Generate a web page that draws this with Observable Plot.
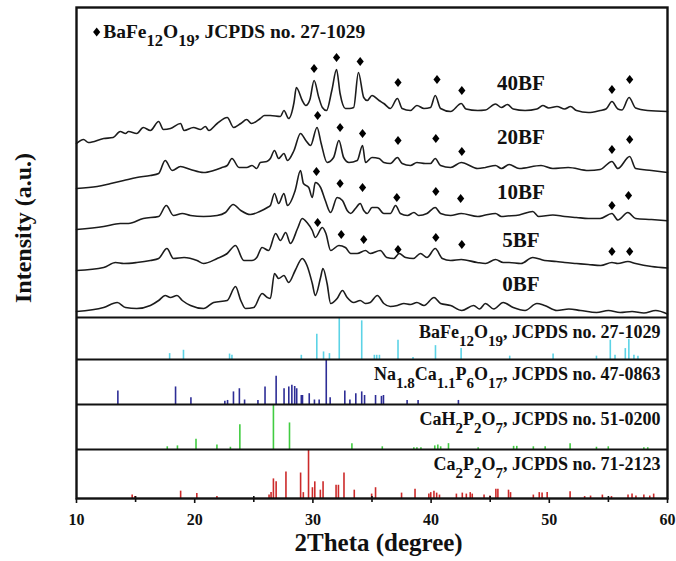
<!DOCTYPE html>
<html>
<head>
<meta charset="utf-8">
<script src="https://cdn.jsdelivr.net/npm/d3@7"></script>
<script src="https://cdn.jsdelivr.net/npm/@observablehq/plot@0.6"></script>
<style>
  html, body { margin: 0; padding: 0; background: #fff; }
  #chart svg { display: block; }
</style>
</head>
<body>
<div id="chart"></div>
<script>
// ---------------- DATA ----------------
const sampleNames = ["0BF", "5BF", "10BF", "20BF", "40BF"];

// XRD traces: [2theta (deg), intensity (a.u.) above the trace's own baseline]
const bf0 = [[10,3],[12.3,7],[13.45,12],[14.15,7],[15.1,6],[16.25,9],[16.95,14],[17.5,19],[17.95,17],[18.5,19],[18.95,14],[19.65,9],[20.75,6],[21.6,12],[22.75,14],[23.45,28],[23.9,14],[24.3,6],[25.0,7],[25.7,21],[26.15,17],[26.4,16],[26.75,41],[27.1,36],[27.55,39],[27.95,32],[28.5,44],[29.1,56],[29.5,49],[29.95,31],[30.2,19],[30.65,37],[30.85,46],[31.2,31],[31.5,11],[32.05,16],[32.5,24],[32.9,17],[33.45,12],[34.0,14],[34.45,11],[34.85,12],[35.45,19],[36.0,11],[36.55,8],[37.15,9],[37.7,11],[38.25,10],[38.8,12],[39.4,9],[40.25,17],[40.8,11],[41.65,9],[42.6,4],[43.6,9],[44.1,5.5],[44.6,11],[45.3,5.5],[46.1,12],[46.95,7],[47.95,4],[48.95,11],[49.6,9],[50.65,4],[51.65,5.5],[52.65,4],[54.0,2],[55.0,4],[56.0,2],[57.0,3],[58.0,1.5],[59.0,4],[60,0.5]];
const bf5 = [[10,4],[12.3,7],[13.3,12],[14.0,11],[15.1,12],[16.25,14],[16.95,16],[17.65,26],[18.2,16],[19.1,17],[20.2,14],[20.75,11],[21.9,16],[22.75,21],[23.45,29],[24.15,14],[24.85,14],[25.25,17],[25.7,27],[26.25,24],[26.85,41],[27.25,34],[27.7,42],[28.1,31],[28.7,46],[29.1,56],[29.5,52],[29.95,44],[30.2,37],[30.8,47],[31.1,41],[31.5,24],[32.2,29],[32.75,27],[33.2,21],[33.75,21],[34.45,24],[34.85,21],[35.7,24],[36.25,17],[36.85,16],[37.3,21],[37.85,17],[38.5,16],[39.1,21],[39.65,17],[40.35,26],[40.95,16],[41.65,14],[42.55,15],[43.9,12],[44.6,11],[45.45,15],[46.1,12],[46.6,12],[47.6,11],[48.6,17],[49.6,14],[50.6,13],[51.3,12],[52.3,11],[53.3,10],[54.35,9],[55.3,12],[55.8,11],[56.65,13],[57.3,11],[58.65,8],[60,6.5]];
const bf10 = [[10,4],[12.3,7],[13.7,10],[14.4,10],[15.65,15],[16.95,17],[17.6,28],[18.2,18],[18.95,20],[19.65,18],[20.75,17],[21.9,18],[22.6,21],[23.25,29],[23.9,23],[24.7,19],[25.5,22],[26.15,26],[26.4,28],[26.75,40],[27.1,30],[27.55,40],[27.85,28],[28.5,43],[28.95,63],[29.2,50],[29.65,46],[29.95,36],[30.2,51],[30.65,46],[31.05,33],[31.5,21],[32.05,36],[32.5,33],[32.9,23],[33.2,20],[33.6,25],[34.0,30],[34.3,23],[34.6,20],[35.0,26],[35.45,26],[36.0,20],[36.55,20],[37.0,28],[37.4,20],[38.0,18],[38.55,21],[38.95,18],[39.65,20],[40.35,26],[40.8,20],[41.65,18],[42.55,20],[43.95,17],[44.6,18.5],[45.45,20],[45.95,17],[46.45,17.5],[47.45,18.5],[48.6,22],[49.1,17],[50.3,18.5],[51.3,17],[52.3,16],[53.3,15],[54.3,15],[55.3,20],[55.8,13.5],[56.65,21],[57.3,15],[58.65,14],[60,12.7]];
const bf20 = [[10,4],[11.75,6],[12.9,9],[14.0,12],[15.1,15],[16.25,17],[16.95,19],[17.5,32],[18.1,22],[18.8,26],[19.65,23],[20.75,20],[21.6,22],[22.3,25],[22.75,27],[23.15,34],[23.75,25],[24.4,25],[24.85,27],[25.25,24],[25.55,30],[26.1,31],[26.4,34],[26.75,42],[27.1,34],[27.55,39],[27.85,32],[28.4,42],[28.95,59],[29.4,52],[29.8,47],[30.35,65],[30.7,49],[31.2,30],[31.75,35],[32.2,52],[32.6,35],[33.05,30],[33.75,32],[34.2,47],[34.45,30],[35.0,35],[35.6,34],[36.0,30],[36.55,29],[37.15,35],[37.55,29],[38.25,27],[38.8,30],[39.5,29],[39.95,29],[40.35,34],[40.8,27],[41.65,25],[42.55,30],[43.95,24],[44.6,25],[45.45,27],[45.95,24],[46.6,28],[47.45,24],[49.3,27],[50.3,24],[51.6,25],[53.3,22],[54.3,23],[55.3,31],[55.8,24],[56.8,36],[57.3,24],[58.65,22],[60,20]];
const bf40 = [[10,5],[10.6,9],[11.0,6],[12.3,10],[13.1,11],[13.7,17],[14.15,15],[14.4,17],[15.1,15],[15.65,21],[16.25,18],[16.95,27],[17.35,19],[17.95,20],[18.8,25],[19.1,18],[19.9,21],[20.5,19],[20.9,22],[21.2,18],[21.9,25],[22.75,31],[23.3,21],[23.9,25],[24.4,29],[24.8,25],[25.55,30],[25.9,33],[26.4,33],[27.25,32],[27.55,38],[27.95,30],[28.4,46],[28.6,61],[29.1,48],[29.4,43],[29.75,49],[30.1,68],[30.5,51],[30.8,41],[31.15,38],[31.6,58],[32.0,79],[32.3,55],[32.75,40],[33.1,40],[33.45,41],[33.85,76],[34.3,51],[34.6,48],[35.0,53],[35.6,48],[36.0,45],[36.55,40],[37.15,50],[37.55,40],[38.25,38],[38.8,43],[39.4,40],[39.95,41],[40.35,53],[40.8,40],[41.65,37],[42.55,45],[42.95,39.5],[43.95,38],[44.6,38.5],[45.45,44.5],[45.95,41],[46.45,44],[46.95,39.5],[47.95,38],[48.95,39.5],[49.45,43],[49.95,40.5],[50.65,42],[51.3,39.5],[51.8,42],[52.3,38],[53.3,36],[54.3,38],[54.8,39.5],[55.3,47],[55.8,39.5],[56.15,38.5],[56.75,51],[57.3,40.5],[58.3,38],[60,37]];

// BaFe12O19 peak markers (diamonds): [2theta, height a.u. above trace baseline]
const dia0 = [];
const dia5 = [[30.4,52],[32.4,40],[34.3,35],[37.2,25],[40.4,37],[42.6,30],[55.3,23],[56.8,23]];
const dia10 = [[30.3,62],[32.3,50],[34.2,46],[37.1,36],[40.4,42],[42.5,35],[55.3,28],[56.7,38]];
const dia20 = [[30.4,77],[32.3,65],[34.2,59],[37.2,52],[40.4,54],[42.6,41],[55.3,43],[56.8,53]];
const dia40 = [[30.1,80],[32.0,91],[34.0,87],[37.2,66],[40.5,69],[42.6,58],[55.3,59],[56.8,69]];

// Reference stick patterns: [2theta, relative intensity %]
const bafeSticks = [[17.88,14],[19.05,22],[22.95,13],[23.15,10],[29.02,10],[30.33,60],[30.9,18],[31.4,14],[32.23,100],[34.13,92],[35.2,10],[35.4,10],[35.63,10],[37.2,46],[38.47,5],[40.37,33],[42.54,26],[46.65,8],[50.32,13],[53.99,8],[55.16,46],[55.56,10],[56.43,26],[56.73,48],[57.16,10],[57.5,8]];
const nacaSticks = [[13.5,30],[18.38,39],[19.68,15],[22.55,7],[22.78,9],[23.28,28],[23.78,35],[24.22,10],[25.35,9],[25.95,39],[26.89,63],[27.56,35],[27.96,39],[28.22,43],[28.46,40],[28.63,35],[29.02,20],[29.12,20],[29.69,24],[30.13,10],[30.53,10],[31.13,98],[31.46,15],[32.7,30],[33.13,10],[33.63,24],[34.13,28],[34.37,20],[35.3,20],[35.8,18],[35.97,20],[37.97,9],[38.9,9],[42.31,9]];
const cahSticks = [[17.68,6],[18.54,8],[20.11,23],[21.88,10],[23.02,5],[23.82,55],[26.66,100],[28.02,59],[33.3,13],[35.87,6],[38.54,4],[38.8,4],[39.14,4],[40.31,8],[40.57,10],[40.81,6],[41.47,13],[43.98,4],[46.98,7],[47.25,7],[48.65,6],[49.65,6],[51.76,13],[53.99,5],[54.99,6],[58.0,4],[58.33,4]];
const cappSticks = [[14.71,7],[14.94,4],[18.81,15],[20.18,10],[21.88,4],[26.29,7],[26.46,12],[26.66,40],[26.89,34],[27.72,54],[28.96,52],[29.19,12],[29.63,99],[29.96,22],[30.16,34],[30.63,17],[30.86,34],[31.96,27],[32.16,27],[32.63,52],[33.5,17],[34.97,9],[35.3,22],[37.5,11],[38.64,19],[39.81,9],[39.97,12],[40.24,15],[40.47,11],[40.71,7],[42.14,9],[42.64,11],[42.98,9],[43.31,12],[43.48,9],[44.48,7],[44.98,5],[45.48,19],[45.65,19],[46.55,17],[46.72,12],[48.65,7],[49.15,12],[49.39,11],[49.82,12],[51.76,14],[52.99,4],[53.49,5],[54.49,7],[55.26,4],[56.66,7],[57.0,9],[57.33,5],[58.0,7],[58.5,5],[58.83,9]];

const refLabels = ["BaFe_{12}O_{19}, JCPDS no. 27-1029", "Na_{1.8}Ca_{1.1}P_{6}O_{17}, JCPDS no. 47-0863", "CaH_{2}P_{2}O_{7}, JCPDS no. 51-0200", "Ca_{2}P_{2}O_{7}, JCPDS no. 71-2123"];
const legendLabel = "BaFe_{12}O_{19}, JCPDS no. 27-1029";
const majorTicks = [10, 20, 30, 40, 50, 60];
const minorTicks = [15, 25, 35, 45, 55];
const xTitle = "2Theta (degree)";
const yTitle = "Intensity (a.u.)";

// ---------------- LAYOUT ----------------
const FONT = '"Times New Roman", "Liberation Serif", "DejaVu Serif", serif';
const traceData = [bf0, bf5, bf10, bf20, bf40];
const diaData = [dia0, dia5, dia10, dia20, dia40];
const traceBase = [184, 224, 265, 306, 350];          // vertical offsets of stacked traces
const labelLift = [23, 27, 34, 48, 58];               // sample label baseline above trace base
// panels bottom->top: Ca2P2O7, CaH2P2O7, NaCaP, BaFe ; main panel above 181
const refPanels = [
  {sticks: bafeSticks, color: "#5cd3e6", base: 139, h: 42, label: refLabels[0]},
  {sticks: nacaSticks, color: "#2d2d96", base: 94,  h: 45, label: refLabels[1]},
  {sticks: cahSticks,  color: "#41cc41", base: 49,  h: 45, label: refLabels[2]},
  {sticks: cappSticks, color: "#cc2a2a", base: 0,   h: 49, label: refLabels[3]}
];
const dividers = [49, 94, 139, 181];

const lineRows = [], diaRows = [];
sampleNames.forEach((name, i) => {
  traceData[i].forEach(([t, v]) => lineRows.push({sample: name, t, y: traceBase[i] + v}));
  diaData[i].forEach(([t, v]) => diaRows.push({t, y: traceBase[i] + v}));
});

const diamond = {
  draw(ctx, size) {
    const r = Math.sqrt(size / Math.PI), w = r * 0.78;
    ctx.moveTo(0, -r); ctx.lineTo(w, 0); ctx.lineTo(0, r); ctx.lineTo(-w, 0); ctx.closePath();
  }
};

const stickMarks = refPanels.map(p => Plot.ruleX(p.sticks, {
  x: d => d[0], y1: () => p.base, y2: d => p.base + d[1] / 100 * p.h,
  stroke: p.color, strokeWidth: 1.6
}));

const plot = Plot.plot({
  width: 676, height: 561,
  marginTop: 7, marginRight: 9, marginBottom: 63, marginLeft: 76,
  style: {fontFamily: FONT, fontSize: "16px", fontWeight: "bold", color: "#111", background: "white", overflow: "visible"},
  x: {domain: [10, 60], ticks: majorTicks, tickSize: 5, tickPadding: 10, tickFormat: d => String(d), label: null},
  y: {domain: [0, 491], axis: null},
  marks: [
    ...stickMarks,
    Plot.line(lineRows, {x: "t", y: "y", z: "sample", stroke: "#1c1c1c", strokeWidth: 1.6, curve: "monotone-x"}),
    Plot.dot(diaRows, {x: "t", y: "y", symbol: diamond, r: 4.6, fill: "#000", stroke: "none"}),
    Plot.ruleY(dividers, {stroke: "#111", strokeWidth: 2}),
    Plot.ruleX(minorTicks, {y1: 2, y2: -4, stroke: "#111", strokeWidth: 1.6}),
    Plot.frame({stroke: "#111", strokeWidth: 2.4})
  ]
});

document.getElementById("chart").appendChild(plot);

// ---------------- TEXT (positioned through the plot's scales) ----------------
const svgEl = plot.tagName.toLowerCase() === "svg" ? plot : plot.querySelector("svg");
const svg = d3.select(svgEl);
function scaleFn(name) {
  const s = plot.scale(name);
  if (s && typeof s.apply === "function") return v => s.apply(v);
  const [d0, d1] = s.domain, [r0, r1] = s.range;
  return v => r0 + (v - d0) / (d1 - d0) * (r1 - r0);
}
const X = scaleFn("x"), Y = scaleFn("y");

svg.selectAll('g[aria-label^="x-axis"] line, g[aria-label^="x-axis"] path').attr("stroke-width", 1.6);
svg.selectAll('g[aria-label^="x-axis"] text').attr("font-size", 16).attr("font-weight", "bold");

function rich(x, y, src, size, subSize, anchor) {
  const t = svg.append("text").attr("x", x).attr("y", y)
    .attr("text-anchor", anchor).attr("font-family", FONT).attr("font-weight", "bold")
    .attr("font-size", size).attr("fill", "#111");
  const dy = Math.round(size * 0.42);
  let down = false;
  src.split(/(_\{[^}]*\})/).filter(s => s.length).forEach(part => {
    const sub = part.startsWith("_{");
    const ts = t.append("tspan").text(sub ? part.slice(2, -1) : part);
    if (sub) { ts.attr("font-size", subSize); if (!down) { ts.attr("dy", dy); down = true; } }
    else if (down) { ts.attr("dy", -dy); down = false; }
  });
  return t;
}

// sample labels
sampleNames.forEach((name, i) => {
  svg.append("text").attr("x", X(47.65)).attr("y", Y(traceBase[i] + labelLift[i]))
    .attr("font-family", FONT).attr("font-weight", "bold").attr("font-size", 21).attr("fill", "#111")
    .text(name);
});

// reference panel labels
refPanels.forEach(p => rich(X(59.45), Y(p.base + p.h - 21), p.label, 18, 15, "end"));

// legend at top
svg.append("path").attr("d", d3.symbol(diamond, Math.PI * 4.6 * 4.6)())
  .attr("transform", `translate(${X(11.75)},${Y(466)})`).attr("fill", "#000");
rich(X(12.3), Y(460.5), legendLabel, 19.5, 16.5, "start");

// axis titles
svg.append("text").attr("x", X(35.6)).attr("y", 551)
  .attr("text-anchor", "middle").attr("font-family", FONT).attr("font-weight", "bold")
  .attr("font-size", 25).attr("fill", "#111").text(xTitle);
svg.append("text").attr("transform", `translate(31,${Y(270)}) rotate(-90)`)
  .attr("text-anchor", "middle").attr("font-family", FONT).attr("font-weight", "bold")
  .attr("font-size", 24).attr("fill", "#111").text(yTitle);
</script>
</body>
</html>
